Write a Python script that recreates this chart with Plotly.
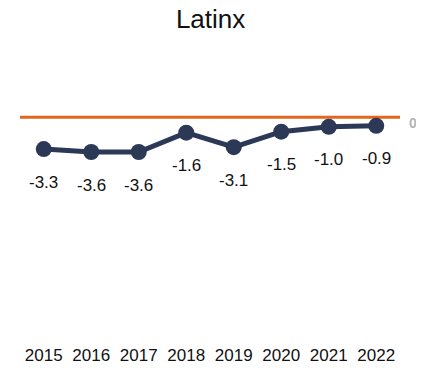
import plotly.graph_objects as go

years = [2015, 2016, 2017, 2018, 2019, 2020, 2021, 2022]
values = [-3.3, -3.6, -3.6, -1.6, -3.1, -1.5, -1.0, -0.9]
labels = ["-3.3", "-3.6", "-3.6", "-1.6", "-3.1", "-1.5", "-1.0", "-0.9"]
tick_labels = [str(y) for y in years]
ref_value = 0
ref_label = "0"

NAVY = "#2B3856"
ORANGE = "#E2661E"
FONT = "Liberation Sans Narrow, Arial Narrow, Liberation Sans, Arial, sans-serif"

fig = go.Figure()
fig.add_trace(go.Scatter(
    x=years, y=values, mode="lines+markers",
    line=dict(color=NAVY, width=5),
    marker=dict(color=NAVY, size=16),
    showlegend=False, hoverinfo="skip",
))

fig.add_shape(type="line", x0=years[0] - 0.5, x1=years[-1] + 0.5, y0=ref_value, y1=ref_value,
              xref="x", yref="y", line=dict(color=ORANGE, width=3), layer="below")

for x, y, t in zip(years, values, labels):
    fig.add_annotation(x=x, y=y, text=t, showarrow=False, yshift=-33,
                       font=dict(family=FONT, size=17, color="#111111"))

fig.add_annotation(x=years[-1] + 0.5, y=ref_value, text="<b>" + ref_label + "</b>", showarrow=False,
                   xanchor="left", xshift=8, yshift=-6, borderpad=0,
                   font=dict(family="Liberation Sans, Arial, sans-serif", size=14, color="#B4B4B4"))

fig.update_layout(
    width=416, height=360,
    margin=dict(l=12, r=24, t=50, b=25, autoexpand=False),
    paper_bgcolor="white", plot_bgcolor="white",
    title=dict(text="Latinx", x=0.487, xanchor="center", y=1, yanchor="top", yref="container",
               pad=dict(t=2, b=0, l=0, r=0),
               font=dict(family="Liberation Sans, Arial, sans-serif", size=26, color="#111111")),
    xaxis=dict(range=[years[0] - 0.5, years[-1] + 0.5], tickvals=years, ticktext=tick_labels,
               showgrid=False, zeroline=False, showline=False, ticks="", automargin=False,
               tickfont=dict(family=FONT, size=17, color="#111111")),
    yaxis=dict(range=[-23.3, 6.1], visible=False, showgrid=False, zeroline=False, automargin=False),
)

fig.write_html("out.html")
